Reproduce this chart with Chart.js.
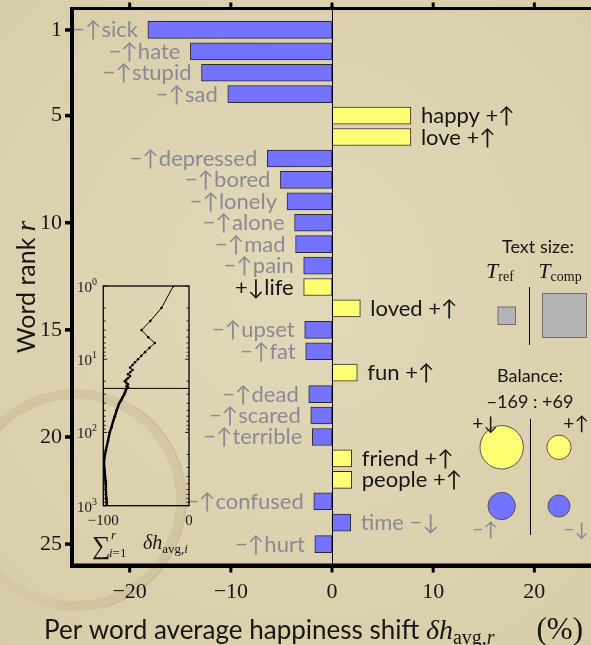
<!DOCTYPE html>
<html>
<head>
<meta charset="utf-8">
<script src="https://cdn.jsdelivr.net/npm/chart.js@4"></script>
<style>
  html, body { margin: 0; padding: 0; background: #DDD3B0; overflow: hidden; }
  #wrap { position: relative; width: 591px; height: 645px; }
  #main { position: absolute; left: 0; top: 0; }
  #inset { position: absolute; left: 60px; top: 276px; }
</style>
</head>
<body>
<div id="wrap">
  <canvas id="main" width="591" height="645"></canvas>
  <canvas id="inset" width="145" height="290"></canvas>
</div>
<script>
// ---- word shift data ----
const ranks = [1, 2, 3, 4, 5, 6, 7, 8, 9, 10, 11, 12, 13, 14, 15, 16, 17, 18, 19, 20, 21, 22, 23, 24, 25];
const words = ['sick', 'hate', 'stupid', 'sad', 'happy', 'love', 'depressed', 'bored', 'lonely', 'alone',
  'mad', 'pain', 'life', 'loved', 'upset', 'fat', 'fun', 'dead', 'scared', 'terrible',
  'friend', 'people', 'confused', 'time', 'hurt'];
// per word average happiness shift (%)
const shifts = [-18.2, -14.0, -12.9, -10.3, 7.8, 7.8, -6.4, -5.1, -4.45, -3.7,
  -3.6, -2.8, -2.8, 2.8, -2.7, -2.6, 2.5, -2.3, -2.1, -1.95,
  1.95, 1.95, -1.8, 1.85, -1.7];
// happiness relative to reference (+/−) and frequency change (↑/↓)
const wordTypes = ['−↑', '−↑', '−↑', '−↑', '+↑', '+↑', '−↑', '−↑', '−↑', '−↑',
  '−↑', '−↑', '+↓', '+↑', '−↑', '−↑', '+↑', '−↑', '−↑', '−↑',
  '+↑', '+↑', '−↑', '−↓', '−↑'];

const xTicks = [-20, -10, 0, 10, 20];
const yTicks = [1, 5, 10, 15, 20, 25];

// cumulative shift beyond the top 25 words
const tailRanks = [26, 28, 30, 33, 36, 40, 45, 50, 60, 70, 85, 100, 130, 175, 215, 260, 330, 450, 600, 800, 1000];
const tailCum = [-73.5, -74.5, -75.5, -77.5, -79, -81.5, -83, -84.5, -86.5, -88.5, -90.5, -92.5, -94.5, -97, -98.5, -99.2, -98.5, -97.5, -97, -96.5, -96];
const insetXTicks = [-100, 0];
const insetDecades = [0, 1, 2, 3];

// balance of contribution types
const balanceKinds = ['+↓', '+↑', '−↑', '−↓'];
const balanceSums = [121, 38, 48, 31];

// ---- styling ----
const SANS = 'Lato, "Liberation Sans", sans-serif';
const SERIF = '"Liberation Serif", "DejaVu Serif", serif';
const INK = '#161616';
const GREY = '#8A8A96';
const BLUE = '#7373FF';
const YELLOW = '#FFFF73';

function runs(ctx, x, y, parts, align) {
  let w = 0;
  parts.forEach(p => { ctx.font = p.font; p.w = ctx.measureText(p.t).width; w += p.w; });
  let cx = align === 'right' ? x - w : align === 'center' ? x - w / 2 : x;
  ctx.textAlign = 'left';
  ctx.textBaseline = 'alphabetic';
  parts.forEach(p => {
    ctx.font = p.font;
    ctx.fillStyle = p.color || INK;
    ctx.fillText(p.t, cx, y + (p.dy || 0));
    cx += p.w;
  });
  return w;
}

const paper = {
  id: 'paper',
  beforeDraw(chart) {
    const { ctx, width, height } = chart;
    ctx.save();
    const g = ctx.createRadialGradient(300, 280, 40, 300, 300, 480);
    g.addColorStop(0, '#E1D8B8');
    g.addColorStop(1, '#D7CCA7');
    ctx.fillStyle = g;
    ctx.fillRect(0, 0, width, height);
    // coffee ring
    ctx.strokeStyle = 'rgba(150, 118, 70, 0.13)';
    ctx.lineWidth = 10;
    ctx.beginPath(); ctx.arc(75, 500, 106, -2.75, 1.75); ctx.stroke();
    ctx.strokeStyle = 'rgba(150, 118, 70, 0.06)';
    ctx.beginPath(); ctx.arc(75, 500, 106, 1.75, 3.55); ctx.stroke();
    ctx.strokeStyle = 'rgba(140, 108, 60, 0.15)';
    ctx.lineWidth = 1.5;
    ctx.beginPath(); ctx.arc(75, 500, 111, -1.0, 1.3); ctx.stroke();
    ctx.restore();
  }
};

const decor = {
  id: 'decor',
  afterDatasetsDraw(chart) {
    const { ctx, chartArea: a, scales: { x, y } } = chart;
    ctx.save();
    // zero line
    ctx.strokeStyle = '#000';
    ctx.lineWidth = 1;
    const x0 = Math.round(x.getPixelForValue(0)) + 0.5;
    ctx.beginPath(); ctx.moveTo(x0, a.top); ctx.lineTo(x0, a.bottom); ctx.stroke();

    // frame
    ctx.fillStyle = '#000';
    ctx.fillRect(a.left - 2, a.top - 1.5, a.right - a.left + 2, 3);
    ctx.fillRect(a.left - 2, a.bottom - 2, a.right - a.left + 2, 4.5);
    ctx.fillRect(a.left - 2, a.top - 1.5, 4, a.bottom - a.top + 4);
    xTicks.forEach(v => {
      const px = x.getPixelForValue(v);
      ctx.fillRect(px - 1.5, a.top - 6, 3, 5);
      ctx.fillRect(px - 1.5, a.bottom + 2, 3, 5);
    });
    yTicks.forEach(v => {
      const py = y.getPixelForValue(v);
      ctx.fillRect(a.left - 7, py - 1.75, 6, 3.5);
    });

    // word labels
    const lf = `22px ${SANS}`;
    words.forEach((w, i) => {
      const v = shifts[i];
      const t = wordTypes[i];
      const col = t[0] === '+' ? INK : GREY;
      const py = y.getPixelForValue(ranks[i]) + 7.5;
      const px = x.getPixelForValue(v);
      if (v < 0) runs(ctx, px - 10, py, [{ t: t + w, font: lf, color: col }], 'right');
      else runs(ctx, px + 10, py, [{ t: w + ' ' + t, font: lf, color: col }], 'left');
    });

    // text size legend
    runs(ctx, 538, 253, [{ t: 'Text size:', font: `18px ${SANS}` }], 'center');
    runs(ctx, 500, 278, [{ t: 'T', font: `italic 22px ${SERIF}` }, { t: 'ref', font: `14px ${SERIF}`, dy: 3 }], 'center');
    runs(ctx, 560, 278, [{ t: 'T', font: `italic 22px ${SERIF}` }, { t: 'comp', font: `14px ${SERIF}`, dy: 3 }], 'center');
    ctx.strokeStyle = '#000';
    ctx.lineWidth = 1;
    ctx.beginPath(); ctx.moveTo(529.5, 287); ctx.lineTo(529.5, 345); ctx.stroke();
    ctx.fillStyle = '#B4B4B4';
    ctx.strokeStyle = '#6E6E6E';
    ctx.fillRect(498, 307, 17.5, 17.5); ctx.strokeRect(498, 307, 17.5, 17.5);
    ctx.fillRect(542.5, 293.5, 44, 44); ctx.strokeRect(542.5, 293.5, 44, 44);

    // balance legend
    const neg = balanceSums[0] + balanceSums[2];
    const pos = balanceSums[1] + balanceSums[3];
    runs(ctx, 530, 382, [{ t: 'Balance:', font: `18px ${SANS}` }], 'center');
    runs(ctx, 530, 408, [{ t: '−' + neg + ' : +' + pos, font: `18px ${SANS}` }], 'center');
    ctx.strokeStyle = '#000';
    ctx.beginPath(); ctx.moveTo(530.5, 419); ctx.lineTo(530.5, 535); ctx.stroke();
    const cx = [501.7, 559, 501.7, 559];
    const cy = [447.3, 447.3, 506, 506];
    const lx = [485, 576, 485, 576];
    const ly = [430, 430, 536, 536];
    balanceKinds.forEach((k, i) => {
      const r = 1.973 * Math.sqrt(balanceSums[i]);
      ctx.beginPath();
      ctx.arc(cx[i], cy[i], r, 0, Math.PI * 2);
      ctx.fillStyle = k[0] === '+' ? YELLOW : BLUE;
      ctx.fill();
      ctx.strokeStyle = '#555';
      ctx.lineWidth = 1;
      ctx.stroke();
    });
    balanceKinds.forEach((k, i) => {
      runs(ctx, lx[i], ly[i], [{ t: k, font: `19px ${SANS}`, color: k[0] === '+' ? INK : GREY }], 'center');
    });

    // axis titles
    runs(ctx, 44, 639, [
      { t: 'Per word average happiness shift ', font: `26px ${SANS}` },
      { t: 'δh', font: `italic 28px ${SERIF}` },
      { t: 'avg,', font: `20px ${SERIF}`, dy: 5 },
      { t: 'r', font: `italic 20px ${SERIF}`, dy: 5 }
    ], 'left');
    runs(ctx, 583, 639, [{ t: '(%)', font: `31px ${SERIF}` }], 'right');

    ctx.save();
    ctx.translate(35, 287);
    ctx.rotate(-Math.PI / 2);
    runs(ctx, 0, 0, [
      { t: 'Word rank ', font: `25px ${SANS}` },
      { t: 'r', font: `italic 27px ${SERIF}` }
    ], 'center');
    ctx.restore();
    ctx.restore();
  }
};

new Chart(document.getElementById('main'), {
  type: 'bar',
  data: {
    datasets: [{
      data: ranks.map((r, i) => ({ x: shifts[i], y: r })),
      backgroundColor: wordTypes.map(t => t[0] === '+' ? YELLOW : BLUE),
      borderColor: '#2A2A2A',
      borderWidth: 1,
      borderSkipped: false,
      barThickness: 17
    }]
  },
  options: {
    indexAxis: 'y',
    responsive: false,
    animation: false,
    devicePixelRatio: 1,
    layout: { padding: { top: 8.5, right: 0, left: 0, bottom: 0 } },
    plugins: { legend: { display: false }, tooltip: { enabled: false } },
    scales: {
      x: {
        type: 'linear', min: -25.7, max: 25.6, position: 'bottom',
        grid: { display: false, drawTicks: false }, border: { display: false },
        ticks: {
          color: INK, padding: 14, font: { family: SERIF, size: 22 },
          callback: v => (v < 0 ? '−' + Math.abs(v) : String(v))
        },
        afterBuildTicks: s => { s.ticks = xTicks.map(v => ({ value: v })); },
        afterFit: s => { s.height = 79.5; s.paddingLeft = 0; s.paddingRight = 0; }
      },
      y: {
        type: 'linear', min: 0, max: 26, reverse: true, offset: false,
        grid: { display: false, drawTicks: false }, border: { display: false },
        ticks: { color: INK, padding: 10, font: { family: SERIF, size: 22 }, callback: v => String(v) },
        afterBuildTicks: s => { s.ticks = yTicks.map(v => ({ value: v })); },
        afterFit: s => { s.width = 72; s.paddingTop = 0; s.paddingBottom = 0; }
      }
    }
  },
  plugins: [paper, decor]
});

// ---- inset: cumulative shift against rank ----
const cumPoints = [];
let run = 0;
ranks.forEach((r, i) => { run += shifts[i]; cumPoints.push({ x: run, y: r }); });
tailRanks.forEach((r, i) => cumPoints.push({ x: tailCum[i], y: r }));

const insetDecor = {
  id: 'insetDecor',
  afterDatasetsDraw(chart) {
    const { ctx, chartArea: a, scales: { x, y } } = chart;
    ctx.save();
    ctx.strokeStyle = '#000';
    ctx.lineWidth = 1.3;
    ctx.strokeRect(a.left, a.top, a.right - a.left, a.bottom - a.top);
    // cutoff at the number of words shown
    ctx.lineWidth = 1;
    const yc = y.getPixelForValue(ranks.length);
    ctx.beginPath(); ctx.moveTo(a.left, yc); ctx.lineTo(a.right, yc); ctx.stroke();
    // log ticks
    ctx.lineWidth = 0.8;
    insetDecades.forEach(d => {
      for (let m = 1; m <= 9; m++) {
        const v = m * Math.pow(10, d);
        if (v > 1000) break;
        const py = y.getPixelForValue(v);
        const len = m === 1 ? 4 : 2.5;
        ctx.beginPath();
        ctx.moveTo(a.left, py); ctx.lineTo(a.left + len, py);
        ctx.moveTo(a.right, py); ctx.lineTo(a.right - len, py);
        ctx.stroke();
      }
    });
    insetDecades.forEach(d => {
      const py = y.getPixelForValue(Math.pow(10, d));
      runs(ctx, 17, py + 6, [
        { t: '10', font: `15px ${SERIF}` },
        { t: String(d), font: `10px ${SERIF}`, dy: -7 }
      ], 'left');
    });
    // Σ label
    runs(ctx, 32, 278, [{ t: '∑', font: `26px ${SERIF}` }], 'left');
    runs(ctx, 49, 281, [{ t: 'i', font: `italic 13px ${SERIF}` }, { t: '=1', font: `13px ${SERIF}` }], 'left');
    runs(ctx, 51, 263, [{ t: 'r', font: `italic 13px ${SERIF}` }], 'left');
    runs(ctx, 83, 273, [
      { t: 'δh', font: `italic 20px ${SERIF}` },
      { t: 'avg,', font: `13px ${SERIF}`, dy: 4 },
      { t: 'i', font: `italic 13px ${SERIF}`, dy: 4 }
    ], 'left');
    ctx.restore();
  }
};

new Chart(document.getElementById('inset'), {
  type: 'scatter',
  data: {
    datasets: [{
      data: cumPoints,
      showLine: true,
      borderColor: '#000',
      borderWidth: 1,
      pointRadius: 1.3,
      pointBackgroundColor: '#000',
      pointBorderWidth: 0,
      segment: { borderWidth: c => (c.p1.parsed.y > 25 ? 2.4 : 1) }
    }]
  },
  options: {
    responsive: false,
    animation: false,
    devicePixelRatio: 1,
    layout: { padding: { top: 10, right: 16, left: 0, bottom: 0 } },
    plugins: { legend: { display: false }, tooltip: { enabled: false } },
    scales: {
      x: {
        type: 'linear', min: -100, max: 0,
        grid: { display: false, drawTicks: false }, border: { display: false },
        ticks: {
          color: INK, padding: 6, font: { family: SERIF, size: 15 },
          callback: v => (v < 0 ? '−' + Math.abs(v) : String(v))
        },
        afterBuildTicks: s => { s.ticks = insetXTicks.map(v => ({ value: v })); },
        afterFit: s => { s.height = 60.3; s.paddingLeft = 0; s.paddingRight = 0; }
      },
      y: {
        type: 'logarithmic', min: 1, max: 1000, reverse: true,
        grid: { display: false, drawTicks: false }, border: { display: false },
        ticks: { display: false },
        afterFit: s => { s.width = 43.3; s.paddingTop = 0; s.paddingBottom = 0; }
      }
    }
  },
  plugins: [insetDecor]
});
</script>
</body>
</html>
